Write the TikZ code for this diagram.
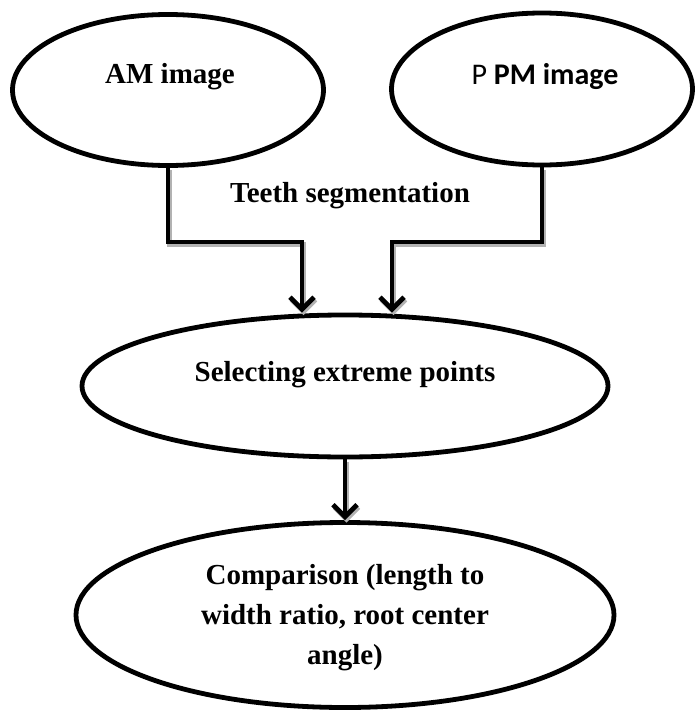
\documentclass[tikz,border=0pt]{standalone}
\usepackage{fontspec}
\setmainfont{Liberation Serif}
\newfontfamily\calibrifont{Carlito}
\usetikzlibrary{shapes.geometric,arrows.meta}
% the three connectors, drawn twice (shadow, then line)
\newcommand\linkpaths[1]{%
  \draw[flow,#1] (am.south) |- (bendL) -- (bendL |- select.north);
  \draw[flow,#1] (pm.south) |- (bendR) -- (bendR |- select.north);
  \draw[flow,#1] (select.south) -- (compare.north);}
\begin{document}
\begin{tikzpicture}[x=1pt,y=-1pt,
  bubble/.style={draw,ellipse,line width=4.8pt,inner sep=0pt},
  tag/.style={font=\fontsize{29}{40}\selectfont\bfseries,align=center,inner sep=0pt},
  flow/.style={line width=4.8pt,-{Straight Barb[length=12pt,width=24pt]}}]
\useasboundingbox (0,0) rectangle (700,712);
% inputs
\node[bubble,minimum width=311,minimum height=151] (am) at (168,90) {};
\node[tag] (amtext) at (170,77) {AM image};
\node[bubble,minimum width=301,minimum height=152] (pm) at (542,89) {};
\node[tag,font=\fontsize{30}{36}\calibrifont] (pmtext) at (545,77) {P \textbf{PM image}};
\node[tag] (seg) at (350,196) {Teeth segmentation};
% steps
\node[bubble,minimum width=526,minimum height=142] (select) at (345,386) {};
\node[tag] (selecttext) at (345,375) {Selecting extreme points};
\node[bubble,minimum width=538,minimum height=185] (compare) at (345,615) {};
\node[tag] (comparetext) at (345,618) {Comparison (length to\\width ratio, root center\\angle)};
\coordinate (bendL) at (302,242);
\coordinate (bendR) at (392,242);
\begin{scope}[transform canvas={shift={(1.5pt,-2.5pt)}}]
\linkpaths{black!30}
\end{scope}
\linkpaths{black}
\end{tikzpicture}
\end{document}
